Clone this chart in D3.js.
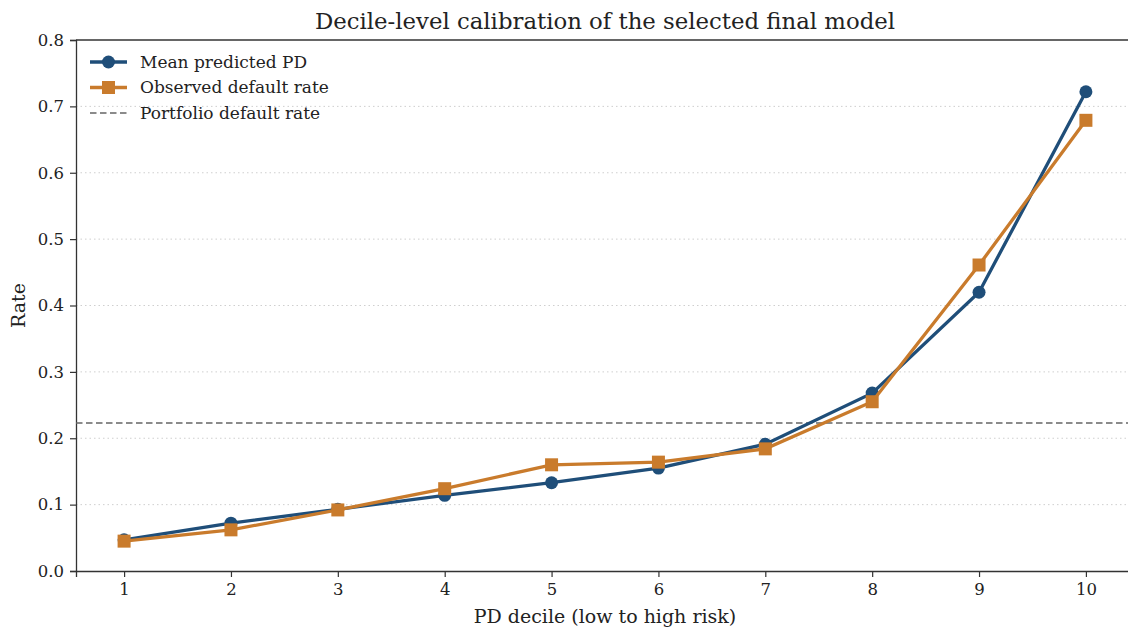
<!DOCTYPE html>
<html>
<head>
<meta charset="utf-8">
<script src="https://cdn.jsdelivr.net/npm/d3@7"></script>
<style>
  body { margin: 0; background: #fff; }
  svg { display: block; font-family: "DejaVu Serif", serif; }
  .tick text { font-family: "DejaVu Serif", serif; font-size: 16.5px; fill: #222; }
</style>
</head>
<body>
<svg id="chart" width="1128" height="628"></svg>
<script>
const deciles = [1, 2, 3, 4, 5, 6, 7, 8, 9, 10];
const meanPredicted = [0.047, 0.072, 0.093, 0.114, 0.133, 0.155, 0.191, 0.268, 0.420, 0.722];
const observedRate = [0.045, 0.062, 0.092, 0.124, 0.160, 0.164, 0.184, 0.255, 0.461, 0.679];
const portfolioRate = 0.223;
const yTicks = [0, 0.1, 0.2, 0.3, 0.4, 0.5, 0.6, 0.7, 0.8];

const margin = { top: 40, right: -6, bottom: 57, left: 76 };
const width = 1128 - margin.left - margin.right;
const height = 628 - margin.top - margin.bottom;

const svg = d3.select("#chart");
const plot = svg.append("g")
    .attr("transform", `translate(${margin.left},${margin.top})`);

const x = d3.scaleLinear()
    .domain([0.55, 10.45])
    .range([0, width]);

const y = d3.scaleLinear()
    .domain([0, 0.8])
    .range([height, 0]);

const blue = "#1f4e79";
const orange = "#c97b2c";

// grid
plot.append("g")
    .selectAll("line")
    .data(yTicks.slice(1, -1))
    .join("line")
    .attr("x1", 0).attr("x2", width)
    .attr("y1", d => y(d)).attr("y2", d => y(d))
    .style("stroke", "#cfcfcf")
    .style("stroke-width", 1)
    .style("stroke-dasharray", "1.5,3");

// axes
const xAxis = plot.append("g")
    .attr("transform", `translate(0, ${height})`)
    .call(d3.axisBottom(x).tickValues(deciles).tickFormat(d3.format("d")).tickSizeOuter(0).tickSize(6).tickPadding(6));

const yAxis = plot.append("g")
    .call(d3.axisLeft(y).tickValues(yTicks).tickFormat(d3.format(".1f")).tickSizeOuter(0).tickSize(6).tickPadding(6));

[xAxis, yAxis].forEach(a => {
    a.select(".domain").style("stroke", "#333").style("stroke-width", 1.3);
    a.selectAll(".tick line").style("stroke", "#333").style("stroke-width", 1.2);
});

// top spine
plot.append("line")
    .attr("x1", 0).attr("x2", width)
    .attr("y1", 0).attr("y2", 0)
    .style("stroke", "#333")
    .style("stroke-width", 1.3);

// portfolio line
plot.append("line")
    .attr("x1", 0).attr("x2", width)
    .attr("y1", y(portfolioRate)).attr("y2", y(portfolioRate))
    .style("stroke", "#666")
    .style("stroke-width", 1.7)
    .style("stroke-dasharray", "6.5,3.5");

const line = d3.line()
    .x(d => x(d[0]))
    .y(d => y(d[1]));

const meanData = deciles.map((d, i) => [d, meanPredicted[i]]);
const obsData = deciles.map((d, i) => [d, observedRate[i]]);

plot.append("path")
    .attr("d", line(meanData))
    .style("fill", "none")
    .style("stroke", blue)
    .style("stroke-width", 3.3);

plot.append("g")
    .selectAll("circle")
    .data(meanData)
    .join("circle")
    .attr("cx", d => x(d[0]))
    .attr("cy", d => y(d[1]))
    .attr("r", 6.5)
    .style("fill", blue);

plot.append("path")
    .attr("d", line(obsData))
    .style("fill", "none")
    .style("stroke", orange)
    .style("stroke-width", 3.3);

plot.append("g")
    .selectAll("rect")
    .data(obsData)
    .join("rect")
    .attr("x", d => x(d[0]) - 6.5)
    .attr("y", d => y(d[1]) - 6.5)
    .attr("width", 13)
    .attr("height", 13)
    .style("fill", orange);

// legend
const legend = svg.append("g").attr("transform", "translate(90, 62)");
const items = [
    { label: "Mean predicted PD", color: blue, marker: "circle" },
    { label: "Observed default rate", color: orange, marker: "square" },
    { label: "Portfolio default rate", color: "#666", marker: "dash" }
];
items.forEach((it, i) => {
    const g = legend.append("g").attr("transform", `translate(0, ${i * 25.5})`);
    g.append("line")
        .attr("x1", 0).attr("x2", 37)
        .style("stroke", it.color)
        .style("stroke-width", it.marker === "dash" ? 1.7 : 3.3)
        .style("stroke-dasharray", it.marker === "dash" ? "6.5,3.5" : null);
    if (it.marker === "circle") {
        g.append("circle").attr("cx", 18.5).attr("r", 6.5).style("fill", it.color);
    } else if (it.marker === "square") {
        g.append("rect").attr("x", 12).attr("y", -6.5).attr("width", 13).attr("height", 13).style("fill", it.color);
    }
    g.append("text")
        .attr("x", 50)
        .attr("dy", "0.35em")
        .style("font-size", "17px")
        .style("fill", "#222")
        .text(it.label);
});

// title and labels
svg.append("text")
    .attr("x", margin.left + width / 2)
    .attr("y", 29)
    .attr("text-anchor", "middle")
    .style("font-size", "22.8px")
    .style("fill", "#222")
    .text("Decile-level calibration of the selected final model");

svg.append("text")
    .attr("x", margin.left + width / 2)
    .attr("y", 623)
    .attr("text-anchor", "middle")
    .style("font-size", "19px")
    .style("fill", "#222")
    .text("PD decile (low to high risk)");

svg.append("text")
    .attr("transform", "rotate(-90)")
    .attr("x", -(margin.top + height / 2))
    .attr("y", 25)
    .attr("text-anchor", "middle")
    .style("font-size", "19px")
    .style("fill", "#222")
    .text("Rate");
</script>
</body>
</html>
